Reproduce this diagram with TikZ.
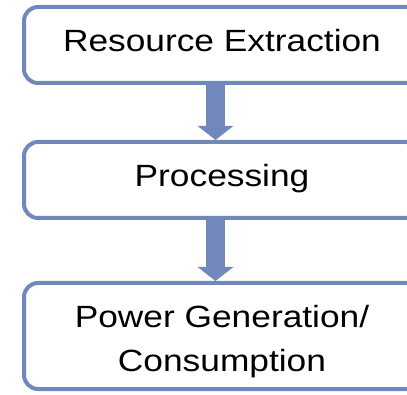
\documentclass[tikz,border=0pt]{standalone}
\usepackage{fontspec}
\setmainfont{Liberation Sans}[FakeStretch=1.15]
\usetikzlibrary{arrows.meta}
\definecolor{flowblue}{RGB}{112,136,188}
\tikzset{
  stagebox/.style={draw=flowblue, line width=4pt, rounded corners=14pt,
    fill=white, inner sep=0pt, minimum width=396pt},
  lbl/.style={inner sep=0pt, anchor=base, text=black,
    font=\fontsize{30.7}{36}\selectfont},
  flow/.style={draw=flowblue, line width=19pt,
    -{Triangle[width=35pt,length=14pt]}},
}
\begin{document}
\begin{tikzpicture}[x=1pt,y=-1pt]
  \useasboundingbox (0,0) rectangle (407,395);
  \clip (0,0) rectangle (407,395);
  \coordinate (ax) at (215.5,0);

  % the three stages
  \node[stagebox, minimum height=76pt]  (extract) at (222,45)  {};
  \node[stagebox, minimum height=76pt]  (process) at (222,180) {};
  \node[stagebox, minimum height=106pt] (power)   at (222,336) {};

  \node[lbl] (textract) at (222,52)  {Resource Extraction};
  \node[lbl] (tprocess) at (222,187) {Processing};
  \node[lbl] (tpowerA)  at (222,328) {Power Generation/};
  \node[lbl] (tpowerB)  at (222,371) {Consumption};

  % arrows between stages
  \draw[flow] (extract.south -| ax) -- (process.north -| ax);
  \draw[flow] (process.south -| ax) -- (power.north -| ax);
\end{tikzpicture}
\end{document}
